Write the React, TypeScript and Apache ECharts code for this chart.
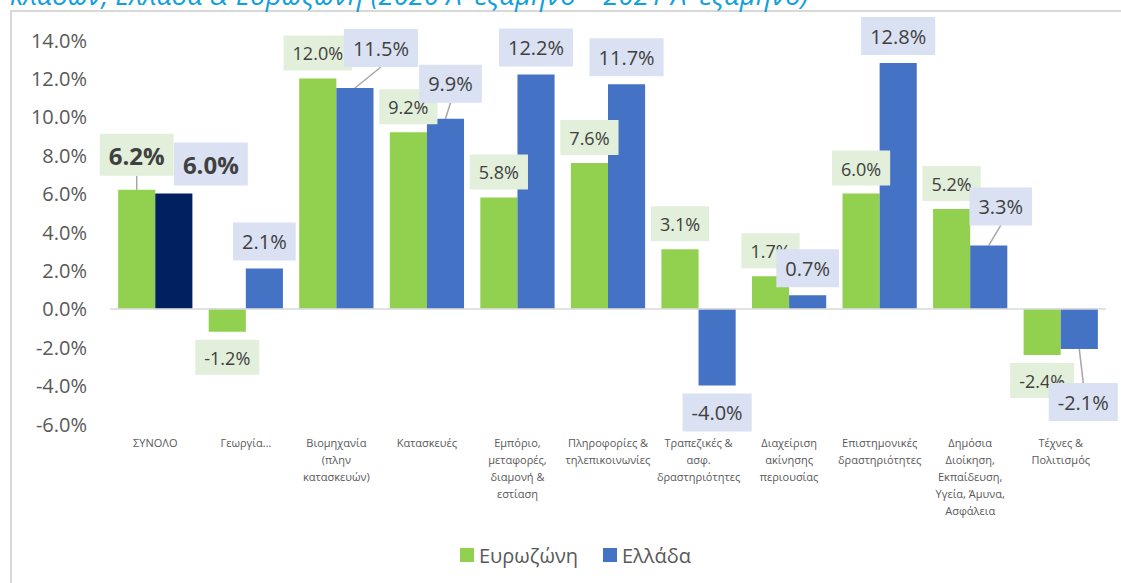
import React, { useEffect, useRef } from "react";
import * as echarts from "echarts";

const categories = [
  "ΣΥΝΟΛΟ",
  "Γεωργία…",
  "Βιομηχανία\n(πλην\nκατασκευών)",
  "Κατασκευές",
  "Εμπόριο,\nμεταφορές,\nδιαμονή &\nεστίαση",
  "Πληροφορίες &\nτηλεπικοινωνίες",
  "Τραπεζικές &\nασφ.\nδραστηριότητες",
  "Διαχείριση\nακίνησης\nπεριουσίας",
  "Επιστημονικές\nδραστηριότητες",
  "Δημόσια\nΔιοίκηση,\nΕκπαίδευση,\nΥγεία, Άμυνα,\nΑσφάλεια",
  "Τέχνες &\nΠολιτισμός",
];
const eurozone = [6.2, -1.2, 12.0, 9.2, 5.8, 7.6, 3.1, 1.7, 6.0, 5.2, -2.4];
const greece = [6.0, 2.1, 11.5, 9.9, 12.2, 11.7, -4.0, 0.7, 12.8, 3.3, -2.1];
const seriesNames = ["Ευρωζώνη", "Ελλάδα"];
const yMin = -6;
const yMax = 14;
const yStep = 2;
const titleText = "κλάδων, Ελλάδα & Ευρωζώνη (2020 Α' εξάμηνο – 2021 Α' εξάμηνο)";

const FONT = "'Open Sans', sans-serif";
const GREEN = "#92D050";
const BLUE = "#4472C4";
const NAVY = "#002060";
const CAT_GAP = 0.18;
const LABEL_DIST = 8;

// label style adjustments (pixel nudges, leader lines)
const euroShift: Record<number, [number, number]> = { 0: [0, -6] };
const greeceShift: Record<number, [number, number]> = {
  0: [37, 0],
  2: [26, -13],
  3: [5, -8],
  9: [12, -12],
  10: [4, 26],
};
const euroLeader = [0];
const greeceLeader = [2, 3, 9, 10];
const boldIndex = 0;

function buildItems(
  values: number[],
  shift: Record<number, [number, number]>,
  baseFont: number,
  baseLine: number,
  special?: (i: number) => any
) {
  return values.map((v, i) => {
    const bold = i === boldIndex;
    return {
      value: v,
      itemStyle: special ? special(i) : undefined,
      label: {
        position: v < 0 ? "bottom" : "top",
        offset: shift[i] || [0, 0],
        fontSize: bold ? 24 : baseFont,
        lineHeight: bold ? 29 : baseLine,
        fontWeight: bold ? "bold" : "normal",
      },
    };
  });
}

// leader line items: [categoryIndex, value, seriesIndex, dx, dy]
const leaderData: number[][] = [
  ...euroLeader.map((i) => [i, eurozone[i], 0, ...(euroShift[i] || [0, 0])]),
  ...greeceLeader.map((i) => [i, greece[i], 1, ...(greeceShift[i] || [0, 0])]),
];

export default function App() {
  const ref = useRef<HTMLDivElement>(null);
  useEffect(() => {
    if (!ref.current) return;
    const chart = echarts.init(ref.current, undefined, { renderer: "svg" });
    const fmt = (p: any) => Number(p.value).toFixed(1) + "%";
    chart.setOption({
      animation: false,
      textStyle: { fontFamily: FONT },
      graphic: [
        {
          type: "rect",
          shape: { x: 11, y: 11, width: 1300, height: 800 },
          style: { fill: "none", stroke: "#D9D9D9", lineWidth: 2 },
          silent: true,
        },
        {
          type: "text",
          x: 10,
          y: 8,
          style: {
            text: titleText,
            fontSize: 27.5,
            fontStyle: "italic",
            fontFamily: FONT,
            fill: "#12A0DC",
            verticalAlign: "bottom",
          },
          silent: true,
        },
      ],
      grid: { left: 110, right: 15, top: 40, bottom: 159, containLabel: false },
      legend: {
        data: seriesNames,
        left: 455,
        top: 540,
        icon: "rect",
        itemWidth: 14,
        itemHeight: 14,
        itemGap: 25,
        textStyle: { fontSize: 20, color: "#595959", fontFamily: FONT },
      },
      xAxis: {
        type: "category",
        data: categories,
        axisLine: { show: false, onZero: false },
        axisTick: { show: false },
        axisLabel: {
          interval: 0,
          fontSize: 11,
          lineHeight: 17,
          color: "#595959",
          margin: 10,
          fontFamily: FONT,
        },
      },
      yAxis: {
        type: "value",
        min: yMin,
        max: yMax,
        interval: yStep,
        axisLine: { show: false },
        axisTick: { show: false },
        splitLine: { show: false },
        axisLabel: {
          formatter: (v: number) => v.toFixed(1) + "%",
          fontSize: 20,
          color: "#595959",
          margin: 23,
          fontFamily: FONT,
        },
      },
      series: [
        {
          name: seriesNames[0],
          type: "bar",
          barGap: "0%",
          barCategoryGap: CAT_GAP * 100 + "%",
          itemStyle: { color: GREEN },
          label: {
            show: true,
            distance: LABEL_DIST,
            formatter: fmt,
            color: "#404040",
            backgroundColor: "#E2EFDA",
            padding: [7, 9, 6, 9],
            fontFamily: FONT,
          },
          data: buildItems(eurozone, euroShift, 18, 22),
          markLine: {
            silent: true,
            symbol: "none",
            label: { show: false },
            lineStyle: { color: "#D9D9D9", width: 1.5, type: "solid" },
            data: [{ yAxis: 0 }],
          },
        },
        {
          name: seriesNames[1],
          type: "bar",
          barGap: "0%",
          barCategoryGap: CAT_GAP * 100 + "%",
          itemStyle: { color: BLUE },
          label: {
            show: true,
            distance: LABEL_DIST,
            formatter: fmt,
            color: "#404040",
            backgroundColor: "#D9E1F2",
            padding: [7, 9, 7, 9],
            fontFamily: FONT,
          },
          data: buildItems(greece, greeceShift, 20, 24, (i) =>
            i === 0 ? { color: NAVY } : undefined
          ),
        },
        {
          type: "custom",
          silent: true,
          z: 1,
          encode: { x: 0, y: 1 },
          data: leaderData,
          renderItem: (params: any, api: any) => {
            const cat = api.value(0);
            const v = api.value(1);
            const s = api.value(2);
            const dx = api.value(3);
            const dy = api.value(4);
            const p = api.coord([cat, v]);
            const bw = (api.size([1, 0])[0] * (1 - CAT_GAP)) / 2;
            const cx = p[0] + (s === 0 ? -bw / 2 : bw / 2);
            const y1 = p[1];
            const y2 = v >= 0 ? y1 - LABEL_DIST + dy : y1 + LABEL_DIST + dy;
            return {
              type: "line",
              shape: { x1: cx, y1, x2: cx + dx, y2 },
              style: { stroke: "#A6A6A6", lineWidth: 1.5 },
            };
          },
        },
      ],
    });
    return () => chart.dispose();
  }, []);
  return (
    <div
      ref={ref}
      style={{ position: "fixed", left: 0, top: 0, width: 1121, height: 583, background: "#fff" }}
    />
  );
}
